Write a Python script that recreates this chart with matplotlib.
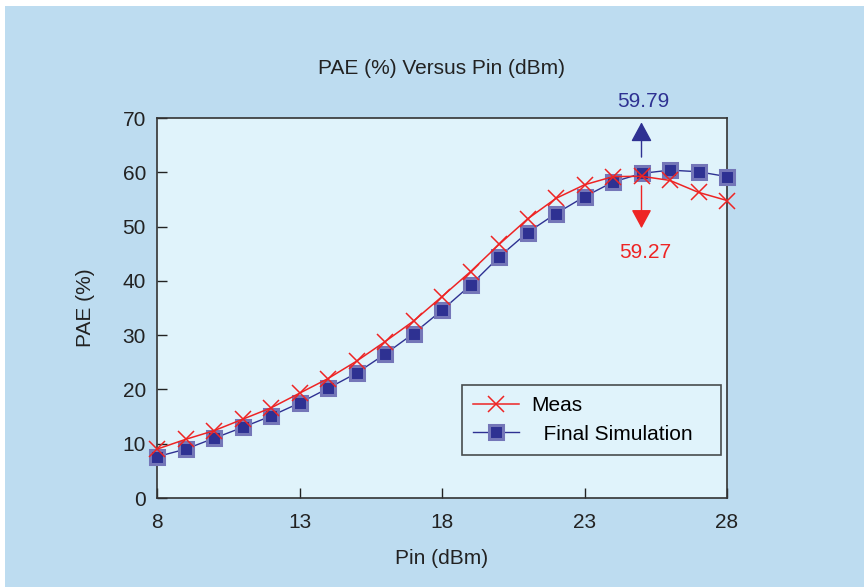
import numpy as np
import matplotlib.pyplot as plt

plt.rcParams['font.family'] = ['Liberation Sans', 'DejaVu Sans']

# Pin sweep (dBm) and PAE (%) for measurement and final simulation
pin = np.arange(8, 29)
pae_meas = [9.0, 10.8, 12.4, 14.5, 16.6, 19.3, 22.0, 25.2, 28.8, 32.6, 37.1,
            41.7, 46.7, 51.4, 55.2, 57.7, 59.2, 59.27, 58.5, 56.3, 54.8]
pae_sim = [7.6, 9.0, 11.0, 13.0, 15.1, 17.5, 20.2, 23.0, 26.5, 30.3, 34.6,
           39.2, 44.4, 48.9, 52.4, 55.5, 58.2, 59.79, 60.4, 60.1, 59.2]

peak_pin = 25
peak_sim = 59.79
peak_meas = 59.27

red = '#ee2424'
navy = '#2e3192'
ink = '#222222'
fs = 15

fig = plt.figure(figsize=(8.64, 5.87), dpi=100)
fig.patch.set_facecolor('white')
# light blue panel behind the chart
fig.patches.append(plt.Rectangle((5 / 864, 0), 1, 1 - 6 / 587,
                                 transform=fig.transFigure,
                                 facecolor='#bddcf0', edgecolor='none', zorder=-10))

ax = fig.add_axes([157 / 864, 1 - 498 / 587, 570 / 864, 380 / 587])
ax.set_facecolor('#e0f3fb')

ax.plot(pin, pae_meas, color=red, lw=1.1, marker='x', ms=12, mew=1.1,
        label='Meas', clip_on=False, zorder=4)
ax.plot(pin, pae_sim, color=navy, lw=1.0, marker='s', ms=10,
        mfc=navy, mec='#7476b8', mew=2.2,
        label='  Final Simulation   ', clip_on=False, zorder=3)

# peak markers
ax.annotate('', xy=(peak_pin, 69.2), xytext=(peak_pin, 62.8),
            arrowprops=dict(arrowstyle='-|>,head_length=1.2,head_width=0.65',
                            color=navy, lw=1.0, shrinkA=0, shrinkB=0))
ax.annotate('', xy=(peak_pin, 49.7), xytext=(peak_pin, 57.5),
            arrowprops=dict(arrowstyle='-|>,head_length=1.15,head_width=0.62',
                            color=red, lw=1.0, shrinkA=0, shrinkB=0))
ax.text(peak_pin + 0.05, 73.0, f'{peak_sim:.2f}', color=navy, fontsize=fs,
        ha='center', va='center', clip_on=False)
ax.text(peak_pin + 0.12, 45.3, f'{peak_meas:.2f}', color=red, fontsize=fs,
        ha='center', va='center')

ax.set_xlim(8, 28)
ax.set_ylim(0, 70)
ax.set_xticks([8, 13, 18, 23, 28])
ax.set_yticks(range(0, 71, 10))
ax.tick_params(direction='in', length=7, width=1, labelsize=fs,
               colors=ink, pad=8)
ax.tick_params(axis='x', pad=11)
for s in ax.spines.values():
    s.set_color('#333333')
    s.set_linewidth(1.2)

ax.set_xlabel('Pin (dBm)', fontsize=fs, color=ink, labelpad=12)
ax.set_ylabel('PAE (%)', fontsize=fs, color=ink, labelpad=20)
ax.set_title('PAE (%) Versus Pin (dBm)', fontsize=fs, color=ink, pad=32)

leg = ax.legend(loc='lower right', bbox_to_anchor=(0.9895, 0.113),
                fontsize=fs, frameon=True, fancybox=False,
                handlelength=2.2, borderpad=0.55, labelspacing=0.45,
                handletextpad=0.6, borderaxespad=0,
                facecolor='#e0f3fb', edgecolor=ink)
leg.get_frame().set_linewidth(1.2)

fig.savefig('out.png', dpi=100, facecolor=fig.get_facecolor())
